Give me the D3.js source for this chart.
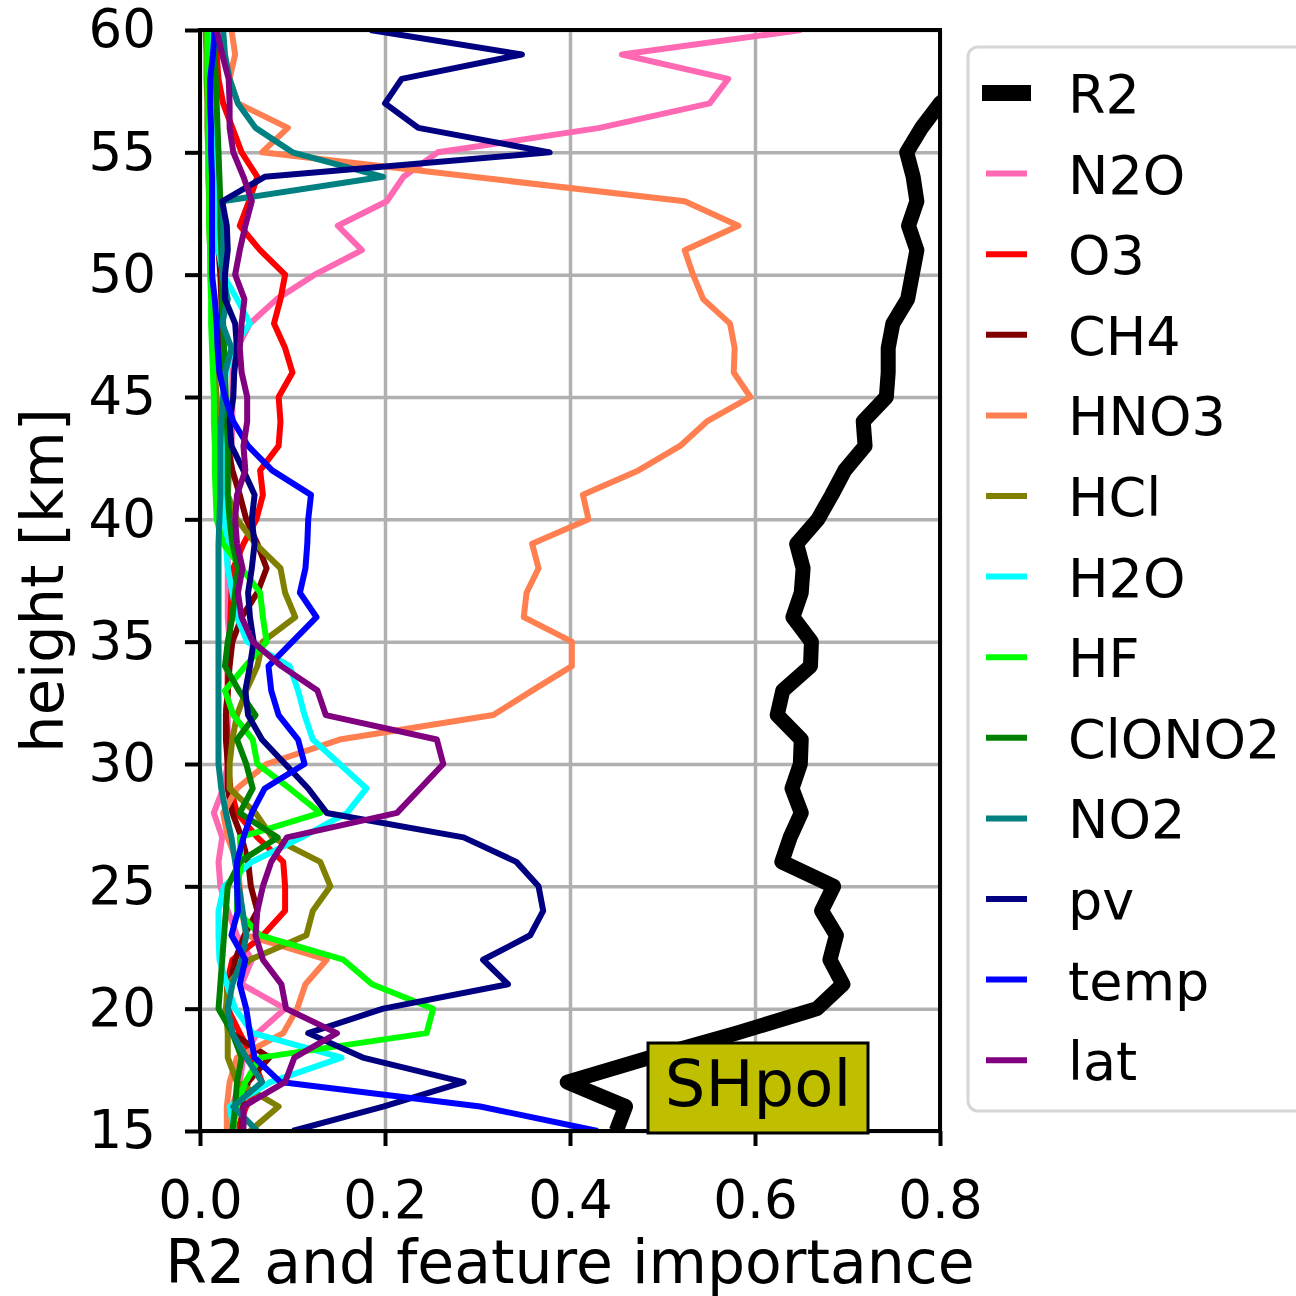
<!DOCTYPE html>
<html>
<head>
<meta charset="utf-8">
<script src="https://cdn.jsdelivr.net/npm/d3@7/dist/d3.min.js"></script>
<style>
body { margin:0; background:#fff; }
text { font-family: "DejaVu Sans", sans-serif; }
</style>
</head>
<body>
<script>
var heights = [15,16,17,18,19,20,21,22,23,24,25,26,27,28,29,30,31,32,33,34,35,36,37,38,
               39,40,41,42,43,44,45,46,47,48,49,50,51,52,53,54,55,56,57,58,59,60];

var r2     = [0.45,0.46,0.397,0.486,0.58,0.667,0.695,0.681,0.688,0.672,0.685,0.629,0.638,0.65,0.64,0.649,0.65,0.624,0.63,0.66,0.661,0.641,0.65,0.652,
              0.645,0.668,0.683,0.697,0.719,0.717,0.742,0.744,0.744,0.749,0.765,0.77,0.775,0.766,0.775,0.771,0.764,0.78,0.80,0.83,0.85,0.86];
var n2o    = [0.03,0.035,0.043,0.047,0.062,0.092,0.045,0.056,0.04,0.03,0.022,0.02,0.024,0.015,0.025,0.03,0.03,0.03,0.03,0.03,0.032,0.03,0.03,0.03,
              0.03,0.03,0.03,0.032,0.034,0.035,0.035,0.035,0.04,0.054,0.083,0.124,0.175,0.149,0.202,0.22,0.257,0.432,0.551,0.571,0.456,0.65];
var o3     = [0.04,0.05,0.067,0.057,0.043,0.03,0.029,0.035,0.068,0.092,0.092,0.09,0.062,0.04,0.033,0.03,0.03,0.028,0.03,0.03,0.032,0.033,0.034,0.036,
              0.047,0.061,0.068,0.065,0.085,0.087,0.085,0.1,0.092,0.08,0.087,0.092,0.065,0.043,0.053,0.062,0.045,0.035,0.025,0.02,0.018,0.015];
var ch4    = [0.045,0.045,0.052,0.075,0.034,0.03,0.032,0.038,0.048,0.062,0.055,0.052,0.045,0.035,0.03,0.03,0.028,0.028,0.03,0.032,0.035,0.045,0.062,0.072,
              0.062,0.05,0.043,0.035,0.03,0.028,0.026,0.025,0.024,0.024,0.023,0.022,0.02,0.02,0.018,0.017,0.016,0.015,0.014,0.013,0.012,0.012];
var hno3   = [0.029,0.029,0.032,0.04,0.09,0.105,0.114,0.137,0.05,0.045,0.043,0.04,0.03,0.025,0.04,0.072,0.151,0.317,0.359,0.402,0.402,0.35,0.353,0.366,
              0.359,0.42,0.414,0.474,0.519,0.548,0.595,0.577,0.578,0.573,0.544,0.533,0.524,0.582,0.524,0.295,0.067,0.095,0.041,0.032,0.038,0.034];
var hcl    = [0.054,0.085,0.04,0.03,0.03,0.028,0.03,0.054,0.115,0.122,0.141,0.13,0.078,0.06,0.032,0.032,0.035,0.04,0.05,0.062,0.068,0.103,0.092,0.087,
              0.06,0.04,0.03,0.025,0.022,0.02,0.018,0.016,0.015,0.014,0.013,0.012,0.011,0.01,0.01,0.009,0.009,0.008,0.008,0.007,0.007,0.006];
var h2o    = [0.037,0.032,0.076,0.153,0.057,0.038,0.029,0.021,0.02,0.02,0.026,0.056,0.11,0.159,0.18,0.151,0.122,0.113,0.106,0.097,0.051,0.04,0.035,0.03,
              0.028,0.027,0.026,0.026,0.026,0.025,0.025,0.028,0.035,0.054,0.04,0.025,0.02,0.018,0.016,0.015,0.014,0.013,0.012,0.012,0.011,0.011];
var hf     = [0.035,0.04,0.049,0.065,0.245,0.252,0.186,0.155,0.065,0.04,0.04,0.045,0.043,0.13,0.097,0.062,0.057,0.036,0.027,0.049,0.072,0.068,0.065,0.045,
              0.025,0.018,0.017,0.016,0.016,0.015,0.015,0.014,0.013,0.012,0.012,0.011,0.011,0.01,0.01,0.01,0.009,0.009,0.009,0.008,0.008,0.008];
var clono2 = [0.035,0.038,0.04,0.045,0.035,0.02,0.022,0.024,0.026,0.028,0.03,0.043,0.084,0.043,0.057,0.05,0.04,0.06,0.042,0.027,0.03,0.035,0.038,0.041,
              0.035,0.032,0.03,0.03,0.03,0.029,0.028,0.027,0.026,0.025,0.024,0.024,0.023,0.022,0.022,0.021,0.02,0.019,0.018,0.017,0.016,0.015];
var no2    = [0.062,0.036,0.067,0.05,0.035,0.03,0.035,0.045,0.05,0.046,0.042,0.038,0.034,0.028,0.023,0.02,0.02,0.02,0.02,0.02,0.02,0.02,0.02,0.02,
              0.02,0.021,0.022,0.022,0.022,0.023,0.025,0.027,0.034,0.024,0.03,0.024,0.025,0.025,0.024,0.198,0.1,0.06,0.041,0.032,0.027,0.025];
var pv     = [0.1,0.198,0.285,0.176,0.117,0.198,0.333,0.306,0.357,0.371,0.366,0.342,0.285,0.137,0.117,0.092,0.067,0.052,0.049,0.054,0.058,0.054,0.052,0.056,
              0.059,0.056,0.059,0.047,0.034,0.032,0.036,0.037,0.04,0.038,0.027,0.027,0.03,0.029,0.024,0.07,0.378,0.236,0.2,0.218,0.348,0.184];
var temp   = [0.43,0.303,0.087,0.059,0.054,0.05,0.043,0.049,0.034,0.041,0.04,0.04,0.047,0.056,0.07,0.113,0.106,0.085,0.077,0.074,0.1,0.126,0.108,0.114,
              0.116,0.117,0.12,0.078,0.052,0.036,0.027,0.021,0.019,0.018,0.016,0.013,0.013,0.013,0.013,0.013,0.012,0.012,0.011,0.011,0.014,0.016];
var lat    = [0.047,0.047,0.092,0.102,0.148,0.093,0.088,0.068,0.06,0.062,0.068,0.077,0.094,0.213,0.238,0.263,0.256,0.136,0.127,0.088,0.057,0.045,0.041,0.046,
              0.04,0.038,0.04,0.049,0.047,0.051,0.051,0.045,0.043,0.045,0.048,0.038,0.043,0.049,0.056,0.047,0.036,0.032,0.032,0.031,0.024,0.018];

var seriesNames = ["R2","N2O","O3","CH4","HNO3","HCl","H2O","HF","ClONO2","NO2","pv","temp","lat"];
var seriesValues = [r2,n2o,o3,ch4,hno3,hcl,h2o,hf,clono2,no2,pv,temp,lat];
var seriesColors = ["#000000","#ff69b4","#ff0000","#800000","#ff7f50","#808000","#00ffff","#00ff00","#008000","#008080","#000080","#0000ff","#800080"];

var xTicks = [0.0,0.2,0.4,0.6,0.8];
var yTicks = [15,20,25,30,35,40,45,50,55,60];
var regionLabel = "SHpol";

var totalWidth = 1296;
var totalHeight = 1296;
var margin = {top:30,left:200,right:356,bottom:165};
var width = totalWidth - margin.left - margin.right;
var height = totalHeight - margin.top - margin.bottom;

var svgin = d3.select("body")
    .append("svg")
    .attr("width", totalWidth)
    .attr("height", totalHeight)
    .style("background", "#fff");

var svg = svgin.append("g")
    .attr("transform", "translate(" + margin.left + "," + margin.top + ")");

var x = d3.scaleLinear().domain([0, 0.8]).range([0, width]);
var y = d3.scaleLinear().domain([15, 60]).range([height, 0]);

svgin.append("defs").append("clipPath")
    .attr("id", "plotclip")
    .append("rect")
    .attr("width", width)
    .attr("height", height);

// grid
svg.append("g")
   .attr("class", "grid")
   .call(d3.axisBottom(x).tickValues(xTicks).tickSize(height).tickFormat(""))
   .call(g => g.select(".domain").remove());
svg.append("g")
   .attr("class", "grid")
   .call(d3.axisLeft(y).tickValues(yTicks).tickSize(-width).tickFormat(""))
   .call(g => g.select(".domain").remove());
svg.selectAll(".grid line")
   .attr("stroke", "#b0b0b0")
   .attr("stroke-width", 3.5);

// lines
var line = d3.line()
    .x(d => x(d[0]))
    .y(d => y(d[1]));

var lines = svg.append("g").attr("clip-path", "url(#plotclip)");
for (var i = 0; i < seriesNames.length; i++) {
  var vals = seriesValues[i];
  lines.append("path")
       .datum(heights.map((h, j) => [vals[j], h]))
       .attr("d", line)
       .attr("fill", "none")
       .attr("stroke", seriesColors[i])
       .attr("stroke-width", i == 0 ? 15 : 6)
       .attr("stroke-linejoin", "round");
}

// spines
svg.append("rect")
   .attr("width", width)
   .attr("height", height)
   .attr("fill", "none")
   .attr("stroke", "black")
   .attr("stroke-width", 4);

// axes
var xAxis = svg.append("g")
   .attr("transform", "translate(0," + height + ")")
   .call(d3.axisBottom(x).tickValues(xTicks).tickSize(15).tickPadding(34).tickFormat(d3.format(".1f")));
var yAxis = svg.append("g")
   .call(d3.axisLeft(y).tickValues(yTicks).tickSize(15).tickPadding(29));
svg.selectAll(".domain").remove();
xAxis.selectAll("line").attr("stroke", "black").attr("stroke-width", 4);
yAxis.selectAll("line").attr("stroke", "black").attr("stroke-width", 4);
xAxis.selectAll("text").attr("font-size", 53).attr("fill", "black").attr("font-family", "DejaVu Sans");
yAxis.selectAll("text").attr("font-size", 53).attr("fill", "black").attr("font-family", "DejaVu Sans");

svg.append("text")
   .attr("x", width / 2)
   .attr("y", height + 152)
   .attr("text-anchor", "middle")
   .attr("font-size", 60)
   .text("R2 and feature importance");

svg.append("text")
   .attr("transform", "translate(" + (-137) + "," + (height / 2) + ") rotate(-90)")
   .attr("text-anchor", "middle")
   .attr("font-size", 59)
   .text("height [km]");

// region label box
var box = svg.append("g").attr("transform", "translate(" + (648 - margin.left) + "," + (1043 - margin.top) + ")");
box.append("rect")
   .attr("width", 220)
   .attr("height", 90)
   .attr("fill", "#bfbf00")
   .attr("stroke", "black")
   .attr("stroke-width", 3);
box.append("text")
   .attr("x", 110)
   .attr("y", 63)
   .attr("text-anchor", "middle")
   .attr("font-size", 64)
   .text(regionLabel);

// legend
var legend = svgin.append("g").attr("transform", "translate(968,47)");
legend.append("rect")
   .attr("width", 345)
   .attr("height", 1064)
   .attr("rx", 10)
   .attr("fill", "white")
   .attr("fill-opacity", 0.8)
   .attr("stroke", "#d6d6d6")
   .attr("stroke-width", 3);
for (var k = 0; k < seriesNames.length; k++) {
  var ly = 46 + k * 80.6;
  legend.append("line")
     .attr("x1", k == 0 ? 14 : 18)
     .attr("x2", k == 0 ? 63 : 59)
     .attr("y1", ly)
     .attr("y2", ly)
     .attr("stroke", seriesColors[k])
     .attr("stroke-width", k == 0 ? 16 : 6);
  legend.append("text")
     .attr("x", 100)
     .attr("y", ly + 20)
     .attr("font-size", 54)
     .text(seriesNames[k]);
}
</script>
</body>
</html>
